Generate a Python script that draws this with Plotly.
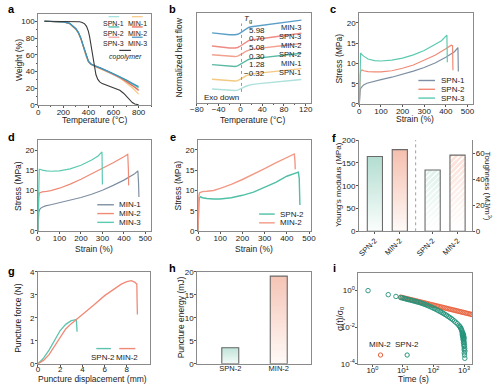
import plotly.graph_objects as go

W, H = 500, 391
FONT = "Liberation Sans, Arial, Helvetica, sans-serif"
TXT = "#222222"
FRAME = "#8a8a8a"
EDGE = "#6a6a6a"

# ---------------- data ----------------
# (a) TGA
tga_T = [50, 100, 150, 200, 250, 300, 320, 340, 360, 380, 400, 420, 450, 500, 550, 600, 650, 700, 750, 800]
tga_spn1 = [100, 99.9, 99.7, 99.3, 97.8, 91.5, 87, 80, 70.5, 60, 52.5, 49, 46.5, 43.5, 39.5, 35, 31.5, 28, 24.5, 20]
tga_spn2 = [100, 99.9, 99.7, 99.3, 97.6, 91, 86.5, 79.5, 70, 59.5, 52, 48.8, 46.5, 43.8, 40.5, 37, 33.5, 29.5, 25.5, 21]
tga_spn3 = [100, 99.9, 99.7, 99.2, 97.3, 90.5, 86, 79, 69.5, 59, 51.8, 48.5, 46.2, 43.2, 40, 36.5, 32.5, 28, 23, 17]
tga_min1 = [100, 99.9, 99.6, 99.1, 97, 90, 85.5, 78.5, 69, 58.5, 51.5, 48.3, 46, 43, 39.8, 36.5, 32.5, 27, 20.5, 13]
tga_min2 = [100, 99.9, 99.7, 99.2, 97.4, 90.8, 86.3, 79.3, 69.8, 59.3, 52, 48.7, 46.4, 43.5, 40.3, 37, 33, 28.5, 23.5, 18]
tga_min3 = [100, 99.9, 99.7, 99.3, 97.7, 91.2, 86.8, 79.8, 70.3, 59.8, 52.2, 49, 46.8, 44, 40.8, 37.5, 34, 30, 26, 22]
tga_cop_T = [50, 100, 200, 300, 330, 350, 370, 385, 400, 410, 420, 430, 440, 450, 460, 475, 490, 510, 550, 600, 650, 680, 710, 730, 750, 770, 800]
tga_cop = [100, 100, 100, 99.8, 99.4, 98.6, 97, 94, 88, 81, 71, 61, 51, 43, 36, 30.5, 27.5, 25.5, 23, 20.5, 17.5, 14, 9, 5.5, 2.8, 1, 0.3]

# (b) DSC (normalized heat flow, stacked, a.u.)
dsc_T = [-52, -40, -30, -20, -10, -5, 0, 5, 10, 15, 20, 30, 40, 60, 80, 100, 112]
dsc_min3 = [70.5, 69.7, 69.0, 68.5, 68.5, 69.0, 70.5, 72.5, 74.5, 76.0, 76.7, 77.5, 78.0, 79.5, 81.0, 82.5, 83.5]
dsc_spn3 = [57, 56.2, 55.5, 55, 55, 55.5, 57, 59, 61, 62.5, 63.2, 64, 64.5, 66, 67.5, 69, 70]
dsc_min2 = [48, 47.3, 46.7, 46.2, 46.2, 46.7, 48, 49.8, 51.6, 53, 53.6, 54.3, 54.8, 56.2, 57.5, 58.8, 59.7]
dsc_spn2 = [38, 37.3, 36.6, 36.1, 36.1, 36.7, 38.2, 40, 41.8, 43.2, 43.8, 44.5, 45, 46.3, 47.5, 48.8, 49.6]
dsc_min1 = [23, 22.4, 21.8, 21.3, 21.2, 21.6, 22.8, 24.6, 26.4, 27.7, 28.3, 29, 29.5, 30.7, 31.9, 33, 33.8]
dsc_spn1 = [13, 12.5, 12, 11.6, 11.5, 11.8, 12.8, 14.3, 15.8, 17, 17.5, 18.2, 18.7, 19.8, 20.9, 22, 22.7]
tg_names = ["MIN-3", "SPN-3", "MIN-2", "SPN-2", "MIN-1", "SPN-1"]
tg_values = ["5.98", "0.70", "5.08", "0.30", "1.28", "\u22120.32"]
tg_line_T = 2

# (c) SPN tensile
c_spn1_x = [0, 1, 2, 4, 7, 12, 20, 35, 60, 100, 150, 200, 250, 300, 350, 400, 440, 456, 457, 458]
c_spn1_y = [0, 1.5, 2.6, 3.4, 3.9, 4.3, 4.7, 5.1, 5.5, 6.0, 6.6, 7.3, 8.1, 9.0, 10.1, 11.5, 12.9, 13.9, 11, 8.0]
c_spn2_x = [0, 1, 2, 4, 7, 12, 20, 40, 70, 100, 150, 200, 250, 300, 350, 400, 425, 431, 432, 433]
c_spn2_y = [0, 2.5, 5, 7.3, 8.2, 8.4, 8.2, 8.0, 7.9, 7.9, 8.2, 8.8, 9.6, 10.7, 12.0, 13.6, 14.5, 14.4, 11, 8.3]
c_spn3_x = [0, 1, 2, 4, 6, 10, 20, 40, 70, 100, 150, 200, 250, 300, 350, 380, 405, 406, 407]
c_spn3_y = [0, 4, 8, 11.5, 12.6, 12.3, 11.8, 11.1, 10.7, 10.6, 10.8, 11.3, 12.1, 13.2, 14.6, 15.6, 17.0, 14, 10.3]

# (d) MIN tensile
d_min1_x = [0, 1, 2, 4, 7, 12, 20, 35, 60, 100, 150, 200, 250, 300, 350, 400, 450, 465, 468, 470]
d_min1_y = [0, 2, 3.5, 4.6, 5.2, 5.6, 5.9, 6.2, 6.5, 7.0, 7.6, 8.3, 9.1, 10.1, 11.3, 12.6, 14.2, 14.9, 12, 8.4]
d_min2_x = [0, 1, 2, 4, 7, 12, 20, 40, 60, 100, 150, 200, 250, 300, 350, 400, 418, 421, 422]
d_min2_y = [0, 3, 6, 8.5, 9.4, 9.6, 9.7, 9.8, 10.0, 10.6, 11.6, 12.8, 14.1, 15.5, 16.9, 18.4, 19.0, 15, 11.3]
d_min3_x = [0, 1, 2, 4, 6, 10, 20, 40, 60, 100, 150, 200, 250, 280, 298, 299, 300]
d_min3_y = [0, 5, 10, 14, 15.3, 15.3, 15.1, 14.9, 14.8, 14.9, 15.4, 16.3, 17.6, 18.6, 19.6, 16, 11.5]

# (e) SPN-2 vs MIN-2
e_spn2_x = [0, 1, 2, 4, 7, 12, 20, 40, 70, 100, 150, 200, 250, 300, 350, 400, 440, 452, 456, 458, 459]
e_spn2_y = [0, 2.5, 5, 7.3, 8.2, 8.4, 8.2, 8.0, 7.9, 7.9, 8.2, 8.8, 9.6, 10.7, 12.0, 13.5, 14.4, 14.5, 13, 9, 6.4]
e_min2_x = [0, 1, 2, 4, 7, 12, 20, 40, 70, 100, 150, 200, 250, 300, 350, 400, 434, 437, 438]
e_min2_y = [0, 3, 6, 8.6, 9.4, 9.6, 9.7, 9.8, 10.0, 10.5, 11.5, 12.7, 14.0, 15.4, 16.8, 18.2, 19.0, 17, 15.2]

# (f) modulus / toughness
f_cats = ["SPN-2", "MIN-2"]
f_modulus = [164, 179]
f_toughness = [47, 58.5]
f_pos_mod = [0.14, 0.36]
f_pos_tough = [0.65, 0.87]

# (g) puncture curves
g_spn2_x = [0, 0.5, 1, 1.5, 2, 2.5, 3, 3.2, 3.45, 3.5, 3.52]
g_spn2_y = [0, 0.25, 0.6, 1.05, 1.45, 1.72, 1.88, 1.9, 1.93, 1.6, 1.4]
g_min2_x = [0, 0.5, 1, 1.5, 2, 2.5, 3, 3.5, 4, 5, 6, 7, 7.5, 8, 8.4, 8.7, 8.9, 8.92, 8.95]
g_min2_y = [0, 0.15, 0.4, 0.78, 1.2, 1.52, 1.75, 1.95, 2.12, 2.55, 2.97, 3.32, 3.47, 3.58, 3.62, 3.56, 3.47, 2.8, 2.15]

# (h) puncture energy
h_cats = ["SPN-2", "MIN-2"]
h_energy = [3.5, 19.1]

# (i) stress relaxation sigma(t)/sigma0
i_spn2_t = [0.72, 3.3, 5.9, 8.5, 9.5, 10.7, 12, 13.5, 15, 17, 19, 21.3, 24, 27, 30, 34, 38, 42.5, 48,
            53.5, 60, 67, 75, 85, 95, 107, 120, 135, 151, 170, 190, 213, 240, 269, 302, 339, 380, 427,
            479, 537, 603, 676, 724, 759, 794, 822, 851, 871, 891,
            880, 900, 905, 915, 925, 930, 940, 945, 950, 960, 965, 970, 980, 985, 990, 1000, 1005,
            1010, 1015, 1020, 1030, 1040, 1050, 1060, 1070]
i_spn2_s = [1.0, 0.60, 0.48, 0.417, 0.398, 0.380, 0.359, 0.339, 0.324, 0.309, 0.295, 0.279, 0.266, 0.251,
            0.240, 0.226, 0.214, 0.200, 0.186, 0.174, 0.162, 0.150, 0.138, 0.126, 0.115, 0.105, 0.0955,
            0.0861, 0.0776, 0.0700, 0.0631, 0.0562, 0.0501, 0.0442, 0.0389, 0.0343, 0.0299, 0.0257,
            0.0219, 0.0186, 0.0155, 0.0126, 0.0110, 0.0098, 0.0085, 0.0074, 0.0063, 0.0054, 0.0045,
            0.0040, 0.0035, 0.0050, 0.0030, 0.0042, 0.0024, 0.0033, 0.0020, 0.0028, 0.0015, 0.0038,
            0.0022, 0.0012, 0.0030, 0.0018, 0.0009, 0.0025, 0.0006, 0.0014, 0.0004, 0.0010, 0.0003,
            0.0007, 0.0002, 0.0005]
i_min2_t = [8.5, 9.5, 10.7, 12, 13.5, 15, 17, 19, 21.3, 24, 27, 30, 34, 38, 42.5, 48, 53.5, 60, 67, 75,
            85, 95, 107, 120, 135, 151, 170, 190, 213, 240, 269, 302, 339, 380, 427, 479, 537, 603, 676,
            759, 851, 955, 1072, 1202, 1349, 1514, 1698, 1850]
i_min2_s = [0.437, 0.417, 0.397, 0.379, 0.362, 0.347, 0.330, 0.315, 0.301, 0.287, 0.273, 0.262, 0.249,
            0.238, 0.227, 0.216, 0.207, 0.197, 0.189, 0.180, 0.171, 0.164, 0.156, 0.149, 0.142, 0.136,
            0.129, 0.124, 0.118, 0.112, 0.107, 0.102, 0.0977, 0.0933, 0.0890, 0.0849, 0.0810, 0.0773,
            0.0738, 0.0704, 0.0672, 0.0642, 0.0612, 0.0584, 0.0557, 0.0532, 0.0508, 0.0490]

# ---------------- colours ----------------
C_SPN1, C_SPN2, C_SPN3 = "#9fdfdc", "#3fb59c", "#f29a9a"
C_MIN1, C_MIN2, C_MIN3 = "#f4c77e", "#e8604a", "#3f8fc2"
C_COP = "#3a3a3a"
B_MIN3, B_SPN3, B_MIN2, B_SPN2, B_MIN1, B_SPN1 = "#5b9fc9", "#ef8a85", "#f2a08e", "#5bb8a3", "#f3c880", "#aee0dc"
S_GREY, S_SAL, S_TEAL = "#7f8fa3", "#f08a76", "#5ccab1"
I_TEAL, I_ORANGE = "#24937a", "#e9623d"

# ---------------- layout helpers ----------------
def xd(a, b):
    return [a / W, b / W]

def yd(top, bottom):
    return [1 - bottom / H, 1 - top / H]

def px(x):
    return x / W

def py(y):
    return 1 - y / H

def axstyle(**kw):
    d = dict(showgrid=False, zeroline=False, showline=True, linecolor=FRAME, linewidth=1,
             mirror=True, ticks="outside", ticklen=2, tickwidth=1, tickcolor="#555",
             tickfont=dict(size=8, color=TXT, family=FONT), fixedrange=True)
    d.update(kw)
    return d

def xax(**kw):
    kw.setdefault("ticklabelstandoff", -3)
    return axstyle(**kw)

def yax(**kw):
    kw.setdefault("ticklabelstandoff", -1)
    return axstyle(**kw)

fig = go.Figure()

def line(x, y, color, n, width=1.2):
    xa = "x" if n == 1 else f"x{n}"
    ya = "y" if n == 1 else f"y{n}"
    fig.add_trace(go.Scatter(x=x, y=y, mode="lines", line=dict(color=color, width=width),
                             xaxis=xa, yaxis=ya, showlegend=False, hoverinfo="skip"))

def mix(c1, c2, t):
    a = [int(c1[i:i + 2], 16) for i in (1, 3, 5)]
    b = [int(c2[i:i + 2], 16) for i in (1, 3, 5)]
    return "rgb(%d,%d,%d)" % tuple(round(a[k] + (b[k] - a[k]) * t) for k in range(3))

def grad_bars(xs, vals, tops, bottoms, xa, ya, width, n=40, pattern_fg=None):
    # each layer runs from its start up to the bar top, so there are no seams
    for k in range(n):
        f = (k + 0.5) / n
        cols = [mix(b, t, f) for t, b in zip(tops, bottoms)]
        marker = dict(color=cols, line=dict(width=0))
        if pattern_fg:
            marker["pattern"] = dict(shape="/", fgcolor=pattern_fg, size=4, solidity=0.4, fillmode="replace")
        fig.add_trace(go.Bar(x=xs, y=[v * (n - k) / n for v in vals], base=[v * k / n for v in vals],
                             width=width, marker=marker, xaxis=xa, yaxis=ya, showlegend=False,
                             hoverinfo="skip"))
    fig.add_trace(go.Bar(x=xs, y=vals, width=width, xaxis=xa, yaxis=ya, showlegend=False, hoverinfo="skip",
                         marker=dict(color="rgba(0,0,0,0)", line=dict(color=EDGE, width=1.1))))

# ---------------- traces ----------------
# a
for ys, c in [(tga_spn1, C_SPN1), (tga_min1, C_MIN1), (tga_spn3, C_SPN3), (tga_min2, C_MIN2),
              (tga_spn2, C_SPN2), (tga_min3, C_MIN3)]:
    line(tga_T, ys, c, 1, 1.1)
line(tga_cop_T, tga_cop, C_COP, 1, 1.1)

# b
for ys, c in [(dsc_min3, B_MIN3), (dsc_spn3, B_SPN3), (dsc_min2, B_MIN2), (dsc_spn2, B_SPN2),
              (dsc_min1, B_MIN1), (dsc_spn1, B_SPN1)]:
    line(dsc_T, ys, c, 2, 1.4)

# c
line(c_spn1_x, c_spn1_y, S_GREY, 3)
line(c_spn2_x, c_spn2_y, S_SAL, 3)
line(c_spn3_x, c_spn3_y, S_TEAL, 3)
# d
line(d_min1_x, d_min1_y, S_GREY, 4)
line(d_min2_x, d_min2_y, S_SAL, 4)
line(d_min3_x, d_min3_y, S_TEAL, 4)
# e
line(e_spn2_x, e_spn2_y, "#4fbfa6", 5, 1.4)
line(e_min2_x, e_min2_y, "#f29a85", 5, 1.4)

# f
grad_bars(f_pos_mod, f_modulus, ["#b3ddd1", "#f5bfae"], ["#fbfefd", "#fffaf8"], "x6", "y6", 0.134)
grad_bars(f_pos_tough, f_toughness, ["#dff1ec", "#fbe0d7"], ["#ffffff", "#ffffff"], "x6", "y10", 0.134,
          pattern_fg=["#94cfbf", "#f0a995"])

# g
line(g_spn2_x, g_spn2_y, "#5cc3ad", 7, 1.3)
line(g_min2_x, g_min2_y, "#f08a76", 7, 1.3)

# h
grad_bars(h_cats, h_energy, ["#bfe3d9", "#f5c4b5"], ["#f5fbf9", "#fffaf8"], "x8", "y8", 0.35)

# i
fig.add_trace(go.Scatter(x=i_min2_t, y=i_min2_s, mode="markers", xaxis="x9", yaxis="y9",
                         marker=dict(symbol="circle-open", size=4.5, color=I_ORANGE, line=dict(width=0.9)),
                         showlegend=False, hoverinfo="skip"))
fig.add_trace(go.Scatter(x=i_spn2_t, y=i_spn2_s, mode="markers", xaxis="x9", yaxis="y9",
                         marker=dict(symbol="circle-open", size=4.5, color=I_TEAL, line=dict(width=0.9)),
                         showlegend=False, hoverinfo="skip"))

# ---------------- axes ----------------
lay = dict(width=W, height=H, margin=dict(l=0, r=0, t=0, b=0), paper_bgcolor="white",
           plot_bgcolor="rgba(0,0,0,0)", barmode="overlay", font=dict(family=FONT, color=TXT),
           showlegend=False)

MINOR = dict(ticks="outside", ticklen=1.5, tickcolor="#555")

lay["xaxis"] = xax(domain=xd(32, 147.7), anchor="y", range=[0, 900], tickvals=[0, 200, 400, 600, 800],
                   minor=dict(MINOR, dtick=100))
lay["yaxis"] = yax(domain=yd(10, 103.3), anchor="x", range=[0, 109], tickvals=[0, 20, 40, 60, 80, 100],
                   minor=dict(MINOR, dtick=10))

lay["xaxis2"] = xax(domain=xd(194.5, 311.7), anchor="y2", range=[-80, 130], tickvals=[-80, -40, 0, 40, 80, 120],
                    minor=dict(MINOR, dtick=20))
lay["yaxis2"] = yax(domain=yd(9.3, 101), anchor="x2", range=[-1, 90.7], showticklabels=False, ticks="")

lay["xaxis3"] = xax(domain=xd(361, 477.3), anchor="y3", range=[0, 525], tickvals=[0, 100, 200, 300, 400, 500])
lay["yaxis3"] = yax(domain=yd(9, 102.3), anchor="x3", range=[0, 22.5], tickvals=[0, 5, 10, 15, 20])

lay["xaxis4"] = xax(domain=xd(31.7, 147.3), anchor="y4", range=[0, 525], tickvals=[0, 100, 200, 300, 400, 500])
lay["yaxis4"] = yax(domain=yd(139, 232.3), anchor="x4", range=[0, 22.6], tickvals=[0, 5, 10, 15, 20])

lay["xaxis5"] = xax(domain=xd(195.7, 311.7), anchor="y5", range=[0, 510], tickvals=[0, 100, 200, 300, 400, 500])
lay["yaxis5"] = yax(domain=yd(139, 232.3), anchor="x5", range=[0, 22.5], tickvals=[0, 5, 10, 15, 20])

lay["xaxis6"] = xax(domain=xd(360.7, 476.7), anchor="y6", range=[0, 1], mirror=False,
                    tickvals=f_pos_mod + f_pos_tough, ticktext=f_cats + f_cats, tickangle=-45,
                    ticklabelstandoff=-1, tickfont=dict(size=7.5, color=TXT, family=FONT))
lay["yaxis6"] = yax(domain=yd(139.3, 232.7), anchor="x6", range=[0, 200], mirror=False,
                    tickvals=[0, 50, 100, 150, 200])
lay["yaxis10"] = yax(domain=yd(139.3, 232.7), anchor="x6", overlaying="y6", side="right", range=[0, 70],
                     mirror=False, tickvals=[0, 20, 40, 60])

lay["xaxis7"] = xax(domain=xd(31.7, 146.7), anchor="y7", range=[0, 10.1], tickvals=[0, 2, 4, 6, 8],
                    ticklabelstandoff=-4)
lay["yaxis7"] = yax(domain=yd(274.3, 368.3), anchor="x7", range=[0, 4], tickvals=[0, 1, 2, 3, 4])

lay["xaxis8"] = xax(domain=xd(195, 311.7), anchor="y8", range=[-0.68, 1.67], type="category",
                    ticks="", tickfont=dict(size=7.5, color=TXT, family=FONT))
lay["yaxis8"] = yax(domain=yd(274.3, 368.3), anchor="x8", range=[0, 20], tickvals=[0, 5, 10, 15, 20])

lay["xaxis9"] = xax(domain=xd(360, 476.7), anchor="y9", type="log", range=[-0.46, 3.27],
                    tickvals=[1, 10, 100, 1000],
                    ticktext=["10<sup>0</sup>", "10<sup>1</sup>", "10<sup>2</sup>", "10<sup>3</sup>"])
lay["yaxis9"] = yax(domain=yd(275, 368.3), anchor="x9", type="log", range=[-4, 0.98],
                    tickvals=[1e-4, 1e-2, 1],
                    ticktext=["10<sup>-4</sup>", "10<sup>-2</sup>", "10<sup>0</sup>"])

# ---------------- annotations & shapes ----------------
ann = []
shapes = []

def text(t, x, y, size=8.5, angle=0, xanchor="center", color=TXT, bold=False):
    if bold:
        t = "<b>" + t + "</b>"
    ann.append(dict(text=t, x=px(x), y=py(y), xref="paper", yref="paper", showarrow=False,
                    xanchor=xanchor, yanchor="middle", textangle=angle,
                    font=dict(size=size, color=color, family=FONT)))

def hline(x0, x1, y, color, width=1.3):
    shapes.append(dict(type="line", xref="paper", yref="paper", x0=px(x0), x1=px(x1), y0=py(y), y1=py(y),
                       line=dict(color=color, width=width)))

# panel letters
for L, x, y in [("a", 5, 5), ("b", 170, 5), ("c", 334, 5), ("d", 5, 136), ("e", 170, 136),
                ("f", 335, 137.5), ("g", 5, 273.5), ("h", 170, 270), ("i", 336, 270)]:
    text(L, x, y, size=11, bold=True, color="#000")

# axis titles
text("Weight (%)", 11.5, 57, angle=-90)
text("Temperature (\u00b0C)", 90, 118.5)
text("Normalized heat flow", 176, 55, angle=-90)
text("Temperature (\u00b0C)", 252, 118.5)
text("Stress (MPa)", 340, 56, angle=-90)
text("Strain (%)", 418, 117.5)
text("Stress (MPa)", 10.5, 186, angle=-90)
text("Strain (%)", 89, 251)
text("Stress (MPa)", 175, 186, angle=-90)
text("Strain (%)", 253, 251)
text("Young's modulus (MPa)", 339.5, 185, angle=-90, size=8)
text("Toughness (MJ/m<sup>3</sup>)", 493, 186, angle=90, size=8)
text("Puncture force (N)", 10.5, 321, angle=-90)
text("Puncture displacement (mm)", 88, 384)
text("Puncture energy (mJ)", 178, 321, angle=-90)
text("\u03c3(t)/\u03c3<sub>0</sub>", 341.5, 322, angle=-90)
text("Time (s)", 417, 383.5)

# legend a
leg_a = [("SPN-1", C_SPN1, 109.5, 13, 20), ("MIN-1", C_MIN1, 133.5, 13, 20),
         ("SPN-2", C_SPN2, 109.5, 23.5, 30), ("MIN-2", C_MIN2, 133.5, 23.5, 30),
         ("SPN-3", C_SPN3, 109.5, 34, 40.5), ("MIN-3", C_MIN3, 133.5, 34, 40.5)]
for name, c, xc, yl, yt in leg_a:
    hline(xc - 5.5, xc + 5.5, yl, c, 1.2)
    text(name, xc, yt, size=7)
hline(115, 127, 47.5, C_COP, 1.2)
text("<i>copolymer</i>", 121, 54, size=7)

# panel b labels
text("<i>T</i><sub>g</sub>", 246.5, 15, size=8)
for k, (nm, val) in enumerate(zip(tg_names, tg_values)):
    yv = [27.3, 35.7, 44.3, 53.3, 62.3, 71][k]
    yn = [24.3, 33.7, 42.7, 51.7, 60.7, 70][k]
    text(val, 256 if k < 5 else 254, yv, size=8)
    text(nm, 303, yn, size=7.5, xanchor="right")
text("Exo down", 200, 95.5, size=8, xanchor="left")
shapes.append(dict(type="line", xref="x2", yref="y2", x0=tg_line_T, x1=tg_line_T, y0=10, y1=80,
                   line=dict(color="#9a9a9a", width=1, dash="dot")))

# legend c
for name, c, y in [("SPN-1", S_GREY, 78.3), ("SPN-2", S_SAL, 87.3), ("SPN-3", S_TEAL, 96.3)]:
    hline(421.5, 438.5, y, c, 1.4)
    text(name, 443, y, size=8, xanchor="left")
# legend d
for name, c, y in [("MIN-1", S_GREY, 205.5), ("MIN-2", S_SAL, 214.5), ("MIN-3", S_TEAL, 223.5)]:
    hline(92.5, 109.5, y, c, 1.4)
    text(name, 113, y, size=8, xanchor="left")
# legend e
for name, c, y in [("SPN-2", "#4fbfa6", 215), ("MIN-2", "#f29a85", 224)]:
    hline(258.3, 274.3, y, c, 1.4)
    text(name, 278, y, size=8, xanchor="left")
# legend g
hline(91.5, 106.5, 352.7, "#5cc3ad", 1.4)
hline(115, 131.5, 352.7, "#f08a76", 1.4)
text("SPN-2", 98, 361.7, size=8)
text("MIN-2", 123, 361.7, size=8)

# f divider
shapes.append(dict(type="line", xref="x6", yref="paper", x0=0.5, x1=0.5, y0=py(232.7), y1=py(139.3),
                   line=dict(color="#a0a0a0", width=1, dash="dot")))

# legend i
text("MIN-2", 382, 349, size=8)
text("SPN-2", 410, 349, size=8)
for xc, c in [(382.7, I_ORANGE), (410, I_TEAL)]:
    shapes.append(dict(type="circle", xref="paper", yref="paper", x0=px(xc - 2.2), x1=px(xc + 2.2),
                       y0=py(359.3 + 2.2), y1=py(359.3 - 2.2), line=dict(color=c, width=1)))

lay["annotations"] = ann
lay["shapes"] = shapes
fig.update_layout(**lay)

fig.write_html("out.html", include_plotlyjs=True, full_html=True,
               config={"displayModeBar": False, "staticPlot": True},
               post_script="document.body.style.margin='0';")
